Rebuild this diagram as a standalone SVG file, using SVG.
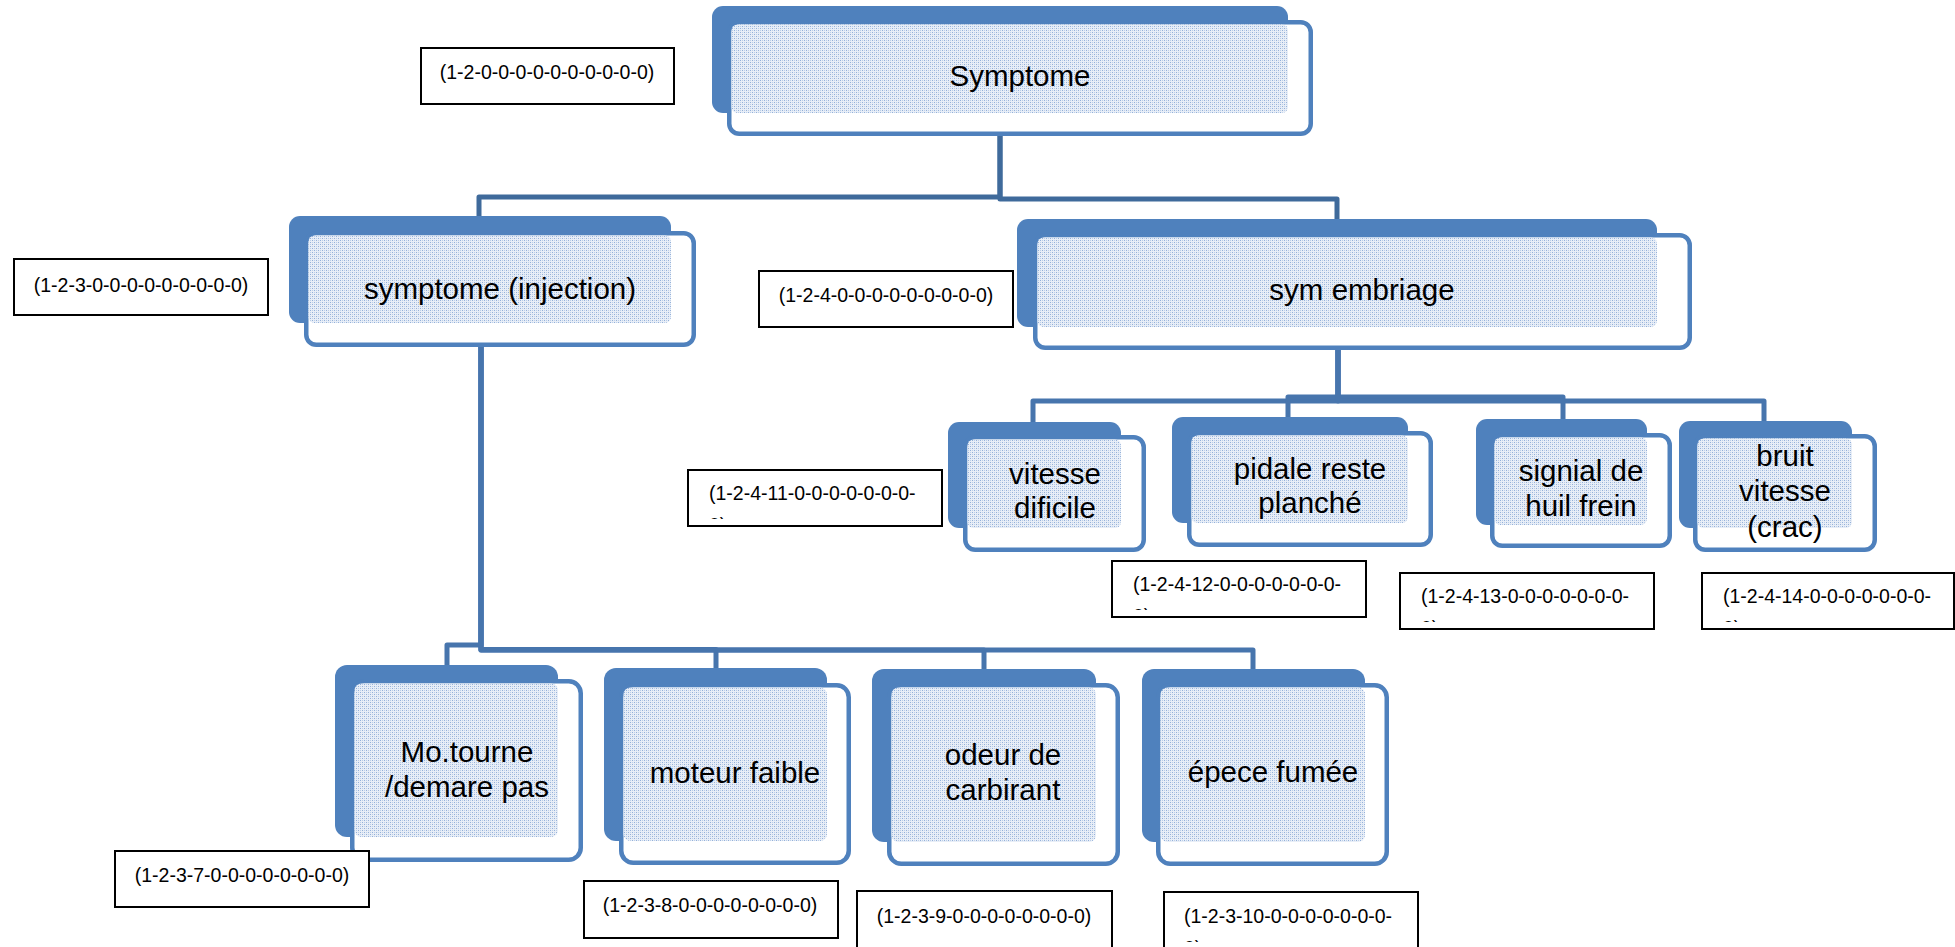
<svg xmlns="http://www.w3.org/2000/svg" width="1955" height="947" viewBox="0 0 1955 947">
  <defs>
    <!-- fine dotted light-blue texture used inside the node cards -->
    <pattern id="tex" width="4" height="4" patternUnits="userSpaceOnUse">
      <rect width="4" height="4" fill="#e8eef7"/>
      <rect x="0" y="0" width="1" height="1" fill="#94b0d9"/>
      <rect x="2" y="2" width="1" height="1" fill="#94b0d9"/>
      <rect x="2" y="0" width="1" height="1" fill="#bccfe8"/>
      <rect x="0" y="2" width="1" height="1" fill="#bccfe8"/>
    </pattern>
    <clipPath id="c11"><rect x="687" y="469" width="256" height="50"/></clipPath>
    <clipPath id="c12"><rect x="1111" y="560" width="256" height="50"/></clipPath>
    <clipPath id="c13"><rect x="1399" y="572" width="256" height="50"/></clipPath>
    <clipPath id="c14"><rect x="1702" y="572" width="256" height="50"/></clipPath>
    <clipPath id="c10"><rect x="1163" y="892" width="256" height="50"/></clipPath>
  </defs>
  <style>
    .back{fill:#4f81bd}
    .front{fill:#ffffff;stroke:#4f81bd;stroke-width:4.5}
    .tex{fill:url(#tex)}
    .t{font-family:"Liberation Sans",Arial,sans-serif;font-size:29.5px;fill:#000;text-anchor:middle}
    .box{fill:#ffffff;stroke:#000;stroke-width:2}
    .lt{font-family:"Liberation Sans",Arial,sans-serif;font-size:19.5px;fill:#000}
    .mid{text-anchor:middle}
    .conn path{fill:none;stroke-width:5;stroke-linejoin:round}
    .top path{stroke:#3f6a9b}
    .sub path{stroke:#4775ad}
  </style>

  <rect width="1955" height="947" fill="#ffffff"/>

  <!-- connectors (drawn beneath the cards) -->
  <g id="connectors" class="conn">
    <g class="top">
      <path d="M1000,134 V197 H479 V216"/>
      <path d="M1000,134 V199 H1337 V219"/>
    </g>
    <g class="sub">
      <path d="M481,345 V645 H447 V665"/>
      <path d="M481,345 V649.5 H716 V668"/>
      <path d="M481,345 V650 H984 V669"/>
      <path d="M481,345 V650 H1253 V669"/>
      <path d="M1338,348 V401 H1033 V422"/>
      <path d="M1338,348 V397 H1288 V417"/>
      <path d="M1338,348 V397 H1563 V419"/>
      <path d="M1338,348 V401 H1764 V421"/>
    </g>
  </g>

  <!-- level 1 -->
  <g id="n-symptome">
    <rect class="back" x="712" y="6" width="576" height="107" rx="11"/>
    <rect class="front" x="729.25" y="22.25" width="581.5" height="111.5" rx="10"/>
    <rect class="tex" x="731.5" y="24.5" width="556.5" height="88.5" rx="6"/>
    <text class="t" x="1020" y="86">Symptome</text>
  </g>

  <!-- level 2 -->
  <g id="n-injection">
    <rect class="back" x="289" y="216" width="382" height="107" rx="11"/>
    <rect class="front" x="306.25" y="233.25" width="387.5" height="111.5" rx="10"/>
    <rect class="tex" x="308.5" y="235.5" width="362.5" height="87.5" rx="6"/>
    <text class="t" x="500" y="299">symptome (injection)</text>
  </g>

  <g id="n-embriage">
    <rect class="back" x="1017" y="219" width="640" height="108" rx="11"/>
    <rect class="front" x="1035.25" y="235.25" width="654.5" height="112.5" rx="10"/>
    <rect class="tex" x="1037.5" y="237.5" width="619.5" height="89.5" rx="6"/>
    <text class="t" x="1362" y="300">sym embriage</text>
  </g>

  <!-- level 3 under "sym embriage" -->
  <g id="n-vitesse">
    <rect class="back" x="948" y="422" width="173" height="106" rx="11"/>
    <rect class="front" x="965.25" y="437.25" width="178.5" height="112.5" rx="10"/>
    <rect class="tex" x="967.5" y="439.5" width="153.5" height="88.5" rx="6"/>
    <text class="t" x="1055" y="484">vitesse</text>
    <text class="t" x="1055" y="518">dificile</text>
  </g>

  <g id="n-pidale">
    <rect class="back" x="1172" y="417" width="236" height="106" rx="11"/>
    <rect class="front" x="1189.25" y="433.25" width="241.5" height="111.5" rx="10"/>
    <rect class="tex" x="1191.5" y="435.5" width="216.5" height="87.5" rx="6"/>
    <text class="t" x="1310" y="479">pidale reste</text>
    <text class="t" x="1310" y="513">planché</text>
  </g>

  <g id="n-signial">
    <rect class="back" x="1476" y="419" width="171" height="106" rx="11"/>
    <rect class="front" x="1492.25" y="435.25" width="177.5" height="110.5" rx="10"/>
    <rect class="tex" x="1494.5" y="437.5" width="152.5" height="87.5" rx="6"/>
    <text class="t" x="1581" y="481">signial de</text>
    <text class="t" x="1581" y="516">huil frein</text>
  </g>

  <g id="n-bruit">
    <rect class="back" x="1679" y="421" width="173" height="107" rx="11"/>
    <rect class="front" x="1695.25" y="436.25" width="179.5" height="113.5" rx="10"/>
    <rect class="tex" x="1697.5" y="438.5" width="154.5" height="89.5" rx="6"/>
    <text class="t" x="1785" y="466">bruit</text>
    <text class="t" x="1785" y="501">vitesse</text>
    <text class="t" x="1785" y="537">(crac)</text>
  </g>

  <!-- level 3 under "symptome (injection)" -->
  <g id="n-motourne">
    <rect class="back" x="335" y="665" width="223" height="172" rx="12"/>
    <rect class="front" x="352.25" y="681.25" width="228.5" height="178.5" rx="12"/>
    <rect class="tex" x="354.5" y="683.5" width="203.5" height="153.5" rx="7"/>
    <text class="t" x="467" y="762">Mo.tourne</text>
    <text class="t" x="467" y="797">/demare pas</text>
  </g>

  <g id="n-moteur">
    <rect class="back" x="604" y="668" width="223" height="173" rx="12"/>
    <rect class="front" x="621.25" y="685.25" width="227.5" height="177.5" rx="12"/>
    <rect class="tex" x="623.5" y="687.5" width="203.5" height="153.5" rx="7"/>
    <text class="t" x="735" y="783">moteur faible</text>
  </g>

  <g id="n-odeur">
    <rect class="back" x="872" y="669" width="224" height="173" rx="12"/>
    <rect class="front" x="889.25" y="685.25" width="228.5" height="178.5" rx="12"/>
    <rect class="tex" x="891.5" y="687.5" width="204.5" height="154.5" rx="7"/>
    <text class="t" x="1003" y="765">odeur de</text>
    <text class="t" x="1003" y="800">carbirant</text>
  </g>

  <g id="n-epece">
    <rect class="back" x="1142" y="669" width="223" height="173" rx="12"/>
    <rect class="front" x="1158.25" y="685.25" width="228.5" height="178.5" rx="12"/>
    <rect class="tex" x="1160.5" y="687.5" width="204.5" height="154.5" rx="7"/>
    <text class="t" x="1273" y="782">épece fumée</text>
  </g>

  <!-- code labels -->
  <g id="lbl-0">
    <rect class="box" x="421" y="48" width="253" height="56"/>
    <text class="lt mid" x="547" y="79">(1-2-0-0-0-0-0-0-0-0-0-0)</text>
  </g>
  <g id="lbl-3">
    <rect class="box" x="14" y="259" width="254" height="56"/>
    <text class="lt mid" x="141" y="292">(1-2-3-0-0-0-0-0-0-0-0-0)</text>
  </g>
  <g id="lbl-4">
    <rect class="box" x="759" y="271" width="254" height="56"/>
    <text class="lt mid" x="886" y="302">(1-2-4-0-0-0-0-0-0-0-0-0)</text>
  </g>
  <g id="lbl-11">
    <rect class="box" x="688" y="470" width="254" height="56"/>
    <g clip-path="url(#c11)">
      <text class="lt" x="709" y="500">(1-2-4-11-0-0-0-0-0-0-0-</text>
      <text class="lt" x="709" y="532">0)</text>
    </g>
  </g>
  <g id="lbl-12">
    <rect class="box" x="1112" y="561" width="254" height="56"/>
    <g clip-path="url(#c12)">
      <text class="lt" x="1133" y="591">(1-2-4-12-0-0-0-0-0-0-0-</text>
      <text class="lt" x="1133" y="623">0)</text>
    </g>
  </g>
  <g id="lbl-13">
    <rect class="box" x="1400" y="573" width="254" height="56"/>
    <g clip-path="url(#c13)">
      <text class="lt" x="1421" y="603">(1-2-4-13-0-0-0-0-0-0-0-</text>
      <text class="lt" x="1421" y="635">0)</text>
    </g>
  </g>
  <g id="lbl-14">
    <rect class="box" x="1702" y="573" width="252" height="56"/>
    <g clip-path="url(#c14)">
      <text class="lt" x="1723" y="603">(1-2-4-14-0-0-0-0-0-0-0-</text>
      <text class="lt" x="1723" y="635">0)</text>
    </g>
  </g>
  <g id="lbl-7">
    <rect class="box" x="115" y="851" width="254" height="56"/>
    <text class="lt mid" x="242" y="882">(1-2-3-7-0-0-0-0-0-0-0-0)</text>
  </g>
  <g id="lbl-8">
    <rect class="box" x="584" y="881" width="254" height="57"/>
    <text class="lt mid" x="710" y="912">(1-2-3-8-0-0-0-0-0-0-0-0)</text>
  </g>
  <g id="lbl-9">
    <rect class="box" x="857" y="891" width="255" height="60"/>
    <text class="lt mid" x="984" y="923">(1-2-3-9-0-0-0-0-0-0-0-0)</text>
  </g>
  <g id="lbl-10">
    <rect class="box" x="1164" y="892" width="254" height="60"/>
    <g clip-path="url(#c10)">
      <text class="lt" x="1184" y="923">(1-2-3-10-0-0-0-0-0-0-0-</text>
      <text class="lt" x="1184" y="955">0)</text>
    </g>
  </g>
</svg>
